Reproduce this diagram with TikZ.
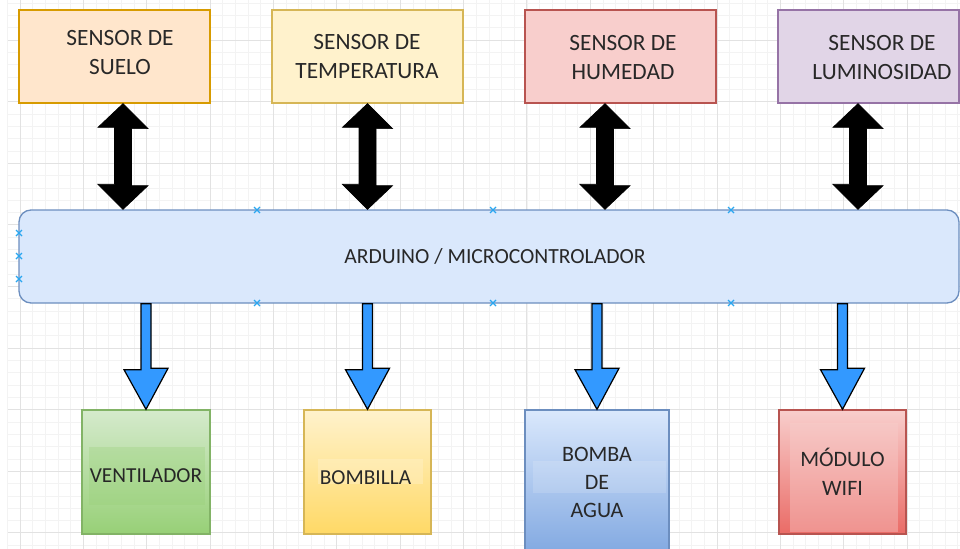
\documentclass[tikz,border=0pt]{standalone}
\usepackage{fontspec}
\setmainfont{Carlito}
\usetikzlibrary{calc}

\definecolor{gridminor}{RGB}{243,243,243}
\definecolor{gridmajor}{RGB}{226,226,226}
\definecolor{textgray}{RGB}{40,40,40}
\definecolor{suelofill}{RGB}{255,230,204}
\definecolor{sueloline}{RGB}{215,155,0}
\definecolor{tempfill}{RGB}{255,242,204}
\definecolor{templine}{RGB}{214,182,86}
\definecolor{humfill}{RGB}{248,206,204}
\definecolor{humline}{RGB}{184,84,80}
\definecolor{lumfill}{RGB}{225,213,231}
\definecolor{lumline}{RGB}{150,115,166}
\definecolor{ardfill}{RGB}{218,232,252}
\definecolor{ardline}{RGB}{108,142,191}
\definecolor{ventline}{RGB}{130,179,102}
\definecolor{ventdark}{RGB}{151,208,119}
\definecolor{ventlight}{RGB}{213,234,204}
\definecolor{bombdark}{RGB}{255,217,102}
\definecolor{aguadark}{RGB}{126,166,224}
\definecolor{wifidark}{RGB}{234,107,102}
\definecolor{flecha}{RGB}{51,153,255}
\definecolor{marcaazul}{RGB}{41,166,240}

\tikzset{
  sensor/.style={draw, line width=1pt, minimum width=143.25pt, minimum height=69.75pt, inner sep=0pt},
  salida/.style={draw, line width=1pt, minimum width=95.25pt, minimum height=93pt, inner sep=0pt},
  txt/.style={text=textgray, align=center, inner sep=0.75pt, font=\fontsize{17.5}{21.75}\selectfont},
  negra/.style={fill=black, draw=black, line width=0.5pt, line join=miter},
  azul/.style={fill=flecha, draw=black, line width=0.9pt, line join=miter},
  marca/.style={draw=marcaazul, line width=0.9pt}
}

\begin{document}
\begin{tikzpicture}[x=0.75pt,y=0.75pt,yscale=-1,xscale=1]
\useasboundingbox (0,0) rectangle (960,549);
\clip (0,0) rectangle (960,549);
\fill[white] (0,0) rectangle (960,549);

% grid
\foreach \i in {-1,...,74}
  \draw[gridminor, line width=0.5pt] ({20+\i*12.672},0) -- ++(0,549);
\foreach \j in {-3,...,41}
  \draw[gridminor, line width=0.5pt] (8,{40+\j*12.32}) -- (960,{40+\j*12.32});
\foreach \i in {0,...,14}
  \draw[gridmajor, line width=0.6pt] ({20+\i*63.36},0) -- ++(0,549);
\foreach \j in {0,...,8}
  \draw[gridmajor, line width=0.6pt] (8,{40+\j*61.6}) -- (960,{40+\j*61.6});

% sensors
\node[sensor, draw=sueloline, fill=suelofill] (suelo) at (114.5,56.5) {};
\node[sensor, draw=templine, fill=tempfill] (temp) at (367.5,56.5) {};
\node[sensor, draw=humline, fill=humfill] (hum) at (620.5,56.5) {};
\node[sensor, draw=lumline, fill=lumfill, minimum width=135.75pt] (lum) at (868.5,56.5) {};

% Text Node
\node[txt] (t-suelo) at (120,52.5) {SENSOR DE\\SUELO};
% Text Node
\node[txt] (t-temp) at (367,56.5) {SENSOR DE\\TEMPERATURA};
% Text Node
\node[txt] (t-hum) at (623,57.5) {SENSOR DE\\HUMEDAD};
% Text Node
\node[txt] (t-lum) at (882,57.5) {SENSOR DE\\LUMINOSIDAD};

% microcontroller
\node[draw=ardline, fill=ardfill, line width=1pt, rounded corners=9pt, minimum width=705pt, minimum height=69.75pt, inner sep=0pt] (ard) at (489,256.5) {};
% Text Node
\node[txt, font=\fontsize{16.2}{19}\selectfont] (t-ard) at (495,256) {ARDUINO / MICROCONTROLADOR};

% double arrows
\foreach \n/\dx in {suelo/8.5, temp/0, hum/-15.5, lum/-10.5}{
  \path ($(\n.south)+(\dx,0)$) coordinate (tip-\n);
  \draw[negra] (tip-\n) -- ++(25,25) -- ++(-16.5,0) -- ++(0,57) -- ++(16.5,0) -- (tip-\n |- ard.north)
    -- ++(-25,-25) -- ++(16.5,0) -- ++(0,-57) -- ++(-16.5,0) -- cycle;
}

% outputs
\node[salida, draw=ventline, top color=ventlight, bottom color=ventdark, minimum width=96pt] (vent) at (146,472) {};
\node[salida, draw=templine, top color=tempfill, bottom color=bombdark] (bomb) at (367.5,472) {};
\node[salida, draw=ardline, top color=ardfill, bottom color=aguadark, minimum width=108pt, minimum height=112.5pt] (agua) at (597,485) {};
\node[salida, draw=humline, top color=humfill, bottom color=wifidark] (wifi) at (842.5,472) {};

% text bands
\fill[ventdark, opacity=0.3] (89,447) rectangle (205,505);
\fill[tempfill, opacity=0.4] (318,459) rectangle (423,484);
\fill[white, opacity=0.15] (533,461) rectangle (666,493);
\fill[humfill, opacity=0.4] (790,423) rectangle (898,532);

% Text Node
\node[txt, text=black!85, font=\fontsize{16}{21}\selectfont] (t-vent) at (146,476) {VENTILADOR};
% Text Node
\node[txt, font=\fontsize{16}{21}\selectfont] (t-bomb) at (365.5,478) {BOMBILLA};
% Text Node
\node[txt, font=\fontsize{16.5}{21}\selectfont] (t-agua) at (597,482) {BOMBA\\DE\\AGUA};
% Text Node
\node[txt, font=\fontsize{16.5}{21.75}\selectfont] (t-wifi) at (842.5,471.5) {MÓDULO\\WIFI};

% blue arrows
\foreach \n in {vent, bomb, agua, wifi}
  \draw[azul] ($(ard.south -| \n.north)+(-5,0)$) -- ++(0,66) -- ++(-17,0) -- (\n.north) -- ++(22,-41)
    -- ++(-17,0) -- ($(ard.south -| \n.north)+(5,0)$) -- cycle;

% connection marks
\foreach \p in {(257,210),(493,210),(731,210),(257,303),(493,303),(731,303),(19,233),(19,256),(19,279)}
  \draw[marca] \p ++(-3,-3) -- ++(6,6) \p ++(-3,3) -- ++(6,-6);

\end{tikzpicture}
\end{document}
